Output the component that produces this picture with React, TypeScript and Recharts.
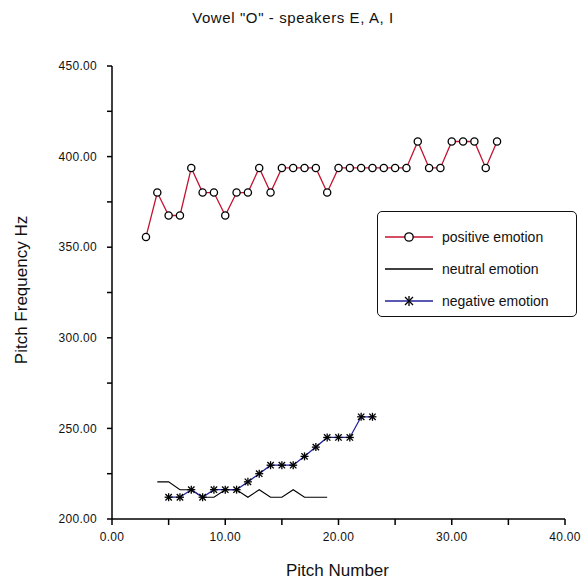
import React from "react";
import { LineChart, Line, XAxis, YAxis } from "recharts";

const chartTitle = 'Vowel "O" - speakers E, A, I';
const xTitle = "Pitch Number";
const yTitle = "Pitch Frequency Hz";

// pitch number -> frequency (Hz)
const positivePitch = [3, 4, 5, 6, 7, 8, 9, 10, 11, 12, 13, 14, 15, 16, 17, 18, 19, 20, 21, 22, 23, 24, 25, 26, 27, 28, 29, 30, 31, 32, 33, 34];
const positiveHz = [355.65, 380.17, 367.5, 367.5, 393.75, 380.17, 380.17, 367.5, 380.17, 380.17, 393.75, 380.17, 393.75, 393.75, 393.75, 393.75, 380.17, 393.75, 393.75, 393.75, 393.75, 393.75, 393.75, 393.75, 408.33, 393.75, 393.75, 408.33, 408.33, 408.33, 393.75, 408.33];

const neutralPitch = [4, 5, 6, 7, 8, 9, 10, 11, 12, 13, 14, 15, 16, 17, 18, 19];
const neutralHz = [220.5, 220.5, 216.18, 216.18, 212.02, 212.02, 216.18, 216.18, 212.02, 216.18, 212.02, 212.02, 216.18, 212.02, 212.02, 212.02];

const negativePitch = [5, 6, 7, 8, 9, 10, 11, 12, 13, 14, 15, 16, 17, 18, 19, 20, 21, 22, 23];
const negativeHz = [212.02, 212.02, 216.18, 212.02, 216.18, 216.18, 216.18, 220.5, 225.0, 229.69, 229.69, 229.69, 234.57, 239.67, 245.0, 245.0, 245.0, 256.4, 256.4];

const xTicks = [0, 5, 10, 15, 20, 25, 30, 35, 40];
const yTicks = [200, 225, 250, 275, 300, 325, 350, 375, 400, 425, 450];

const legendItems = ["positive emotion", "neutral emotion", "negative emotion"];

const toRows = (xs: number[], ys: number[]) => xs.map((p, i) => ({ pitch: p, hz: ys[i] }));

const positiveData = toRows(positivePitch, positiveHz);
const neutralData = toRows(neutralPitch, neutralHz);
const negativeData = toRows(negativePitch, negativeHz);

const RED = "#c41230";
const BLUE = "#22229a";
const FONT = "'Liberation Sans', Arial, sans-serif";

const CircleDot = (props: any) => {
  const { cx, cy } = props;
  if (cx == null || cy == null) return null;
  return <circle cx={cx} cy={cy} r={3.6} fill="#fff" stroke="#000" strokeWidth={1.3} />;
};

const StarDot = (props: any) => {
  const { cx, cy } = props;
  if (cx == null || cy == null) return null;
  const s = 4;
  return (
    <g stroke="#000" strokeWidth={1.3}>
      <line x1={cx} y1={cy - s} x2={cx} y2={cy + s} />
      <line x1={cx - s} y1={cy} x2={cx + s} y2={cy} />
      <line x1={cx - s * 0.8} y1={cy - s * 0.8} x2={cx + s * 0.8} y2={cy + s * 0.8} />
      <line x1={cx - s * 0.8} y1={cy + s * 0.8} x2={cx + s * 0.8} y2={cy - s * 0.8} />
    </g>
  );
};

function LegendBox() {
  const sample = (i: number) => {
    if (i === 0)
      return (
        <svg width={48} height={12}>
          <line x1={0} y1={6} x2={48} y2={6} stroke={RED} strokeWidth={1.3} />
          <circle cx={24} cy={6} r={4.2} fill="#fff" stroke="#000" strokeWidth={1.3} />
        </svg>
      );
    if (i === 1)
      return (
        <svg width={48} height={12}>
          <line x1={0} y1={6} x2={48} y2={6} stroke="#000" strokeWidth={1.3} />
        </svg>
      );
    return (
      <svg width={48} height={12}>
        <line x1={0} y1={6} x2={48} y2={6} stroke={BLUE} strokeWidth={1.3} />
        <g stroke="#000" strokeWidth={1.3}>
          <line x1={24} y1={1} x2={24} y2={11} />
          <line x1={20} y1={2} x2={28} y2={10} />
          <line x1={20} y1={10} x2={28} y2={2} />
        </g>
      </svg>
    );
  };
  return (
    <div
      style={{
        position: "absolute",
        left: 377,
        top: 211,
        width: 200,
        height: 106,
        border: "1.5px solid #111",
        borderRadius: 5,
        boxSizing: "border-box",
        background: "#fff",
        fontFamily: FONT,
        fontSize: 14,
        color: "#111",
      }}
    >
      {legendItems.map((name, i) => (
        <div
          key={name}
          style={{ position: "absolute", left: 7, top: 17 + i * 32, display: "flex", alignItems: "center", height: 16 }}
        >
          {sample(i)}
          <span style={{ marginLeft: 9 }}>{name}</span>
        </div>
      ))}
    </div>
  );
}

const tickStyle = { fill: "#111", fontSize: 12, fontFamily: FONT, letterSpacing: 0.3 };

export default function App() {
  return (
    <div style={{ position: "absolute", left: 0, top: 0, width: 586, height: 587, background: "#fff", fontFamily: FONT }}>
      <div
        style={{
          position: "absolute",
          left: 0,
          width: 586,
          top: 9,
          textAlign: "center",
          fontSize: 15,
          letterSpacing: 0.6,
          color: "#111",
        }}
      >
        {chartTitle}
      </div>
      <LineChart width={586} height={587} margin={{ top: 66, right: 21, bottom: 28, left: 10 }}>
        <XAxis
          dataKey="pitch"
          type="number"
          domain={[0, 40]}
          ticks={xTicks}
          tickFormatter={(v: number) => (v % 10 === 0 ? v.toFixed(2) : "")}
          interval={0}
          height={40}
          allowDataOverflow
          axisLine={{ stroke: "#000", strokeWidth: 1.5 }}
          tickLine={{ stroke: "#000", strokeWidth: 1.5 }}
          tickSize={6}
          tickMargin={7}
          tick={tickStyle}
        />
        <YAxis
          dataKey="hz"
          type="number"
          domain={[200, 450]}
          ticks={yTicks}
          tickFormatter={(v: number) => (v % 50 === 0 ? v.toFixed(2) : "")}
          interval={0}
          width={102}
          allowDataOverflow
          axisLine={{ stroke: "#000", strokeWidth: 1.5 }}
          tickLine={{ stroke: "#000", strokeWidth: 1.5 }}
          tickSize={5}
          tickMargin={10}
          tick={tickStyle}
        />
        <Line
          data={positiveData}
          dataKey="hz"
          name="positive emotion"
          type="linear"
          stroke={RED}
          strokeWidth={1.3}
          dot={<CircleDot />}
          activeDot={false}
          isAnimationActive={false}
        />
        <Line
          data={neutralData}
          dataKey="hz"
          name="neutral emotion"
          type="linear"
          stroke="#000"
          strokeWidth={1.1}
          dot={false}
          activeDot={false}
          isAnimationActive={false}
        />
        <Line
          data={negativeData}
          dataKey="hz"
          name="negative emotion"
          type="linear"
          stroke={BLUE}
          strokeWidth={1.3}
          dot={<StarDot />}
          activeDot={false}
          isAnimationActive={false}
        />
      </LineChart>
      <div
        style={{
          position: "absolute",
          left: 22,
          top: 290,
          transform: "translate(-50%, -50%) rotate(-90deg)",
          whiteSpace: "nowrap",
          fontSize: 17,
          color: "#111",
        }}
      >
        {yTitle}
      </div>
      <div
        style={{ position: "absolute", left: 110, width: 455, top: 561, textAlign: "center", fontSize: 17, color: "#111" }}
      >
        {xTitle}
      </div>
      <LegendBox />
    </div>
  );
}
